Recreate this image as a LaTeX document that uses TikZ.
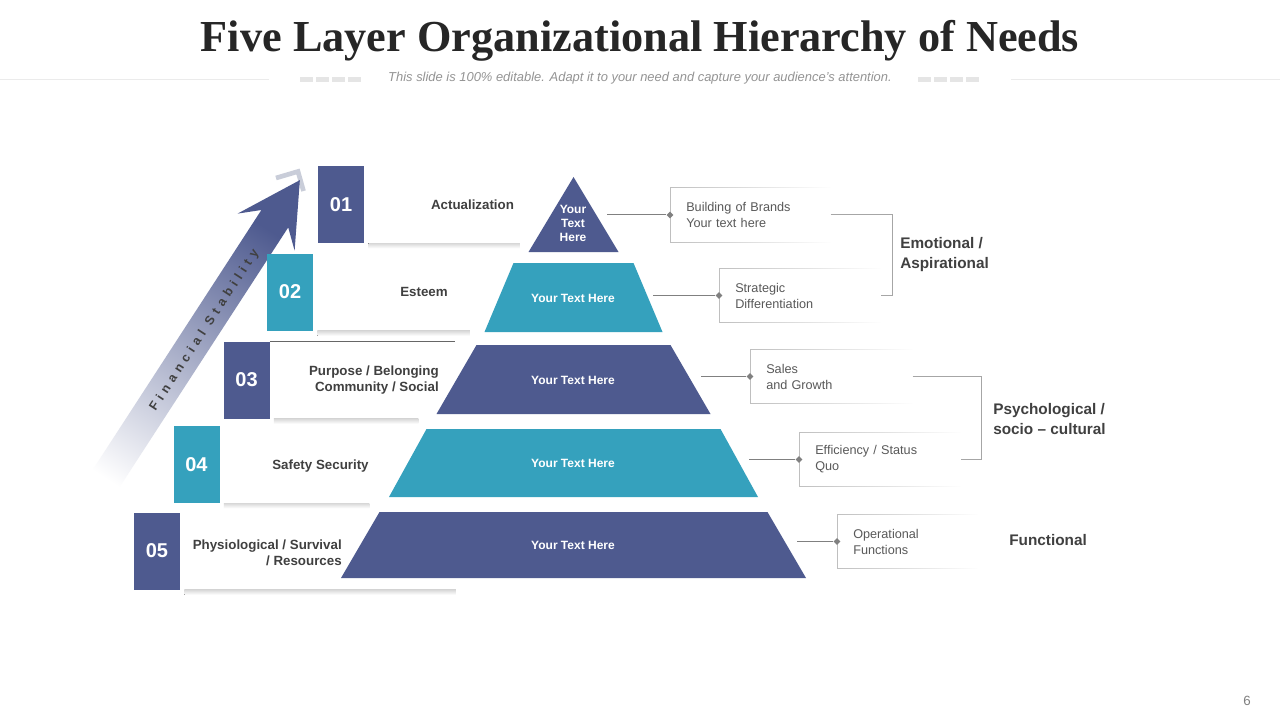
\documentclass[tikz,border=0pt]{standalone}
\usepackage{fontspec}
\setmainfont{Liberation Sans}
\newfontfamily\titlefont{Liberation Serif}
\newfontfamily\spacedfont[LetterSpace=38]{Liberation Sans}
\usetikzlibrary{positioning, calc, fadings, shapes.geometric}

\definecolor{pyrblue}{HTML}{4E5A8F}
\definecolor{pyrteal}{HTML}{35A1BD}
\definecolor{darktext}{HTML}{404040}
\definecolor{notetext}{HTML}{595959}
\definecolor{framegray}{HTML}{BFBFBF}
\definecolor{glowgray}{HTML}{C9CDD9}

\begin{document}
\begin{tikzpicture}[
x=0.75pt, y=-0.75pt,
num_box/.style={rectangle, minimum width=34.5pt, minimum height=57.75pt, inner sep=0pt, text=white, font=\bfseries\fontsize{15}{18}\selectfont},
card_box/.style={rectangle, fill=white, minimum height=57.75pt, inner sep=0pt, anchor=west},
card_shadow/.style={top color=black!15, bottom color=white},
item_text/.style={text=darktext, font=\bfseries\fontsize{10}{12}\selectfont, inner sep=0pt},
layer_text/.style={text=white, font=\bfseries\fontsize{9}{10.5}\selectfont, align=center, inner sep=0pt},
note_box/.style={rectangle, anchor=west, minimum height=40.5pt, inner xsep=12pt, inner ysep=0pt, text width=#1, align=left, text=notetext, font=\fontsize{9.5}{12}\selectfont},
note_frame/.style={draw=framegray, line width=0.75pt, path fading=east},
link_line/.style={draw=gray, line width=0.75pt},
diamond_pin/.style={diamond, fill=gray, inner sep=0pt, minimum size=5.25pt},
group_text/.style={anchor=west, align=left, text=darktext, font=\bfseries\fontsize{11.5}{14.5}\selectfont, inner sep=0pt}
]
\useasboundingbox (0,0) rectangle (1280,720);
\fill[white] (0,0) rectangle (1280,720);

% Header
\node[anchor=base, text=black!85, font=\titlefont\bfseries\fontsize{33.2}{40}\selectfont] (title) at (640,52) {Five Layer Organizational Hierarchy of Needs};
\node[anchor=base, text=black!42, font=\itshape\fontsize{9.7}{11}\selectfont] (subtitle) at (640,82) {This slide is 100\% editable. Adapt it to your need and capture your audience's attention.};
\draw[black!8, line width=0.75pt] (0,80) -- (269,80) (1011,80) -- (1280,80);
\foreach \s in {300,918}
  \foreach \k in {0,...,3}
    \fill[black!10] (\s+\k*16,77) rectangle (\s+\k*16+13,82);

% Rising arrow
\draw[glowgray, line width=3.5pt, line join=miter] (276,178) -- (298,171.5) -- (303.5,191);
\begin{scope}[shift={(82,515.6)}, rotate=57]
\shade[bottom color=white, middle color=pyrblue!45, top color=pyrblue, shading angle=-33] (0,-16) -- (354,-16) -- (338,-34) -- (400,0) -- (338,34) -- (354,16) -- (0,16) -- cycle;
\node[rotate=57, text=darktext, font=\spacedfont\bfseries\fontsize{9.5}{11}\selectfont] (fin) at (222,2) {Financial Stability};
\end{scope}

% Numbered steps
\node[num_box, fill=pyrblue] (num1) at (341,204.5) {01};
\node[num_box, fill=pyrteal] (num2) at (290,292) {02};
\node[num_box, fill=pyrblue] (num3) at (246.5,380) {03};
\node[num_box, fill=pyrteal] (num4) at (196.5,464.5) {04};
\node[num_box, fill=pyrblue] (num5) at (157,551) {05};

\node[card_box, minimum width=116.25pt] (card1) at (num1.east) {};
\node[card_box, minimum width=117pt] (card2) at (num2.east) {};
\node[card_box, minimum width=111pt] (card3) at (num3.east) {};
\node[card_box, minimum width=111.75pt] (card4) at (num4.east) {};
\node[card_box, minimum width=206.25pt] (card5) at (num5.east) {};
\foreach \n in {1,...,5}
  \fill[card_shadow] ($(card\n.south west)+(4,0)$) rectangle ($(card\n.south east)+(0,5)$);
\draw[darktext!80, line width=0.75pt] (card3.north west) -- ++(185,0);

% Pyramid
\foreach \ty/\tw/\by/\bw/\col in {177/0/252/45/pyrblue, 263/60/332/89/pyrteal, 345/97/414/137/pyrblue, 429/147/497/184.5/pyrteal, 512/194/578/232.5/pyrblue}
  \fill[\col] (573.5-\tw,\ty) -- (573.5+\tw,\ty) -- (573.5+\bw,\by) -- (573.5-\bw,\by) -- cycle;

\node[layer_text] (L1) at (573,223) {Your\\Text\\Here};
\node[layer_text] (L2) at (573,298) {Your Text Here};
\node[layer_text] (L3) at (573,380) {Your Text Here};
\node[layer_text] (L4) at (573,463) {Your Text Here};
\node[layer_text] (L5) at (573,545) {Your Text Here};

% Step labels
\node[item_text] (item1) at (472.5,205) {Actualization};
\node[item_text] (item2) at (424,292) {Esteem};
\node[item_text, align=right, anchor=east] (item3) at (439,380) {Purpose / Belonging\\Community / Social};
\node[item_text] (item4) at (320.5,466) {Safety Security};
\node[item_text, align=right, anchor=east] (item5) at (342,552.5) {Physiological / Survival\\/ Resources};

% Notes
\coordinate (c1) at (607,215);
\coordinate (c2) at (653,295.5);
\coordinate (c3) at (701,376.5);
\coordinate (c4) at (749,459.5);
\coordinate (c5) at (797,541.5);
\node[note_box=96pt] (note1) at (670,215) {Building of Brands\\Your text here};
\node[note_box=96.75pt] (note2) at (719,295.5) {Strategic\\Differentiation};
\node[note_box=97.5pt] (note3) at (750,376.5) {Sales\\and Growth};
\node[note_box=96.75pt] (note4) at (799,459.5) {Efficiency / Status\\Quo};
\node[note_box=81pt] (note5) at (837,541.5) {Operational\\Functions};
\foreach \n in {1,...,5} {
  \draw[note_frame] (note\n.north east) -- (note\n.north west) -- (note\n.south west) -- (note\n.south east);
  \node[diamond_pin] (pin\n) at (note\n.west) {};
  \draw[link_line] (c\n) -- (pin\n);
}

% Groups
\draw[link_line, draw=black!35] (note1.east) -- ++(62,0) |- (note2.east);
\draw[link_line, draw=black!35] (note3.east) -- ++(69,0) |- (note4.east);
\node[group_text] (emo) at (900,254.5) {Emotional /\\Aspirational};
\node[group_text] (psy) at (993,419) {Psychological /\\socio – cultural};
\node[group_text] (fun) at (1009,540) {Functional};

\node[text=gray, font=\fontsize{10}{12}\selectfont] (page) at (1247,701) {6};
\end{tikzpicture}
\end{document}
